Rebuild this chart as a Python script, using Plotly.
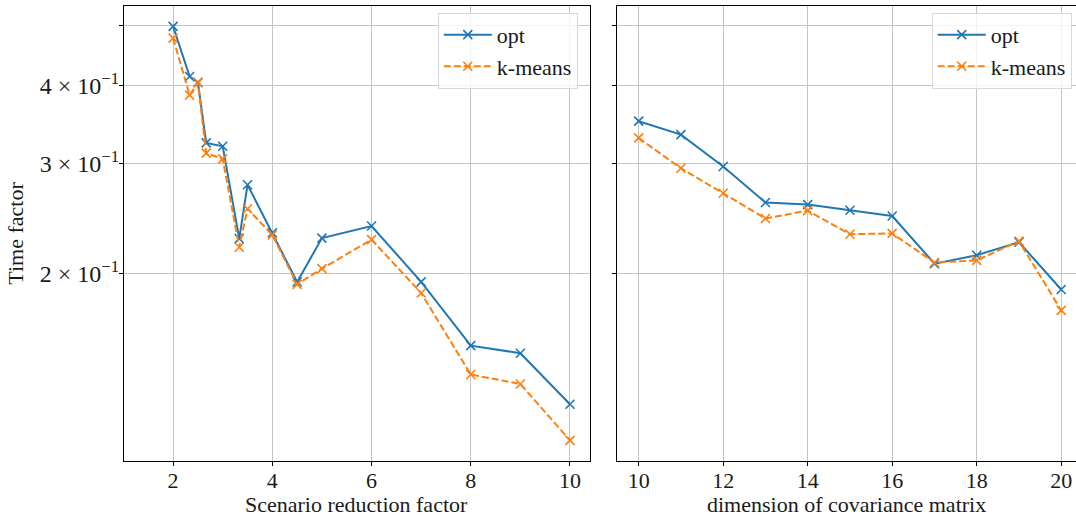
import plotly.graph_objects as go

# Left panel: scenario reduction factor
red_factor = [2, 2.333, 2.5, 2.667, 3, 3.333, 3.5, 4, 4.5, 5, 6, 7, 8, 9, 10]
red_opt = [0.498, 0.414, 0.405, 0.324, 0.320, 0.2275, 0.2776, 0.2325, 0.1939, 0.228,
           0.2384, 0.194, 0.1533, 0.1491, 0.1235]
red_kmeans = [0.477, 0.3865, 0.4046, 0.3119, 0.3054, 0.2204, 0.2541, 0.2307, 0.1922, 0.2037,
              0.2267, 0.1862, 0.1378, 0.1331, 0.1081]

# Right panel: dimension of covariance matrix
dims = [10, 11, 12, 13, 14, 15, 16, 17, 18, 19, 20]
dim_opt = [0.351, 0.334, 0.297, 0.260, 0.258, 0.2527, 0.2474, 0.2075, 0.2140, 0.2246, 0.1886]
dim_kmeans = [0.330, 0.295, 0.269, 0.2451, 0.2523, 0.2313, 0.2320, 0.2083, 0.2100, 0.2255, 0.1746]

y_tickvals = [0.2, 0.3, 0.4, 0.5]
y_ticktext = ["2 × 10<sup>−1</sup>", "3 × 10<sup>−1</sup>", "4 × 10<sup>−1</sup>", ""]
x1_ticks = [2, 4, 6, 8, 10]
x2_ticks = [10, 12, 14, 16, 18, 20]
x1_title = "Scenario reduction factor"
x2_title = "dimension of covariance matrix"
y_title = "Time factor"

BLUE = "#1f77b4"
ORANGE = "#ff7f0e"
FONT = "Liberation Serif"
TXT = "#1a1a1a"

fig = go.Figure()


def add_pair(x, y_opt, y_km, xa, ya, legend):
    fig.add_trace(go.Scatter(
        x=x, y=y_opt, name="opt", mode="lines+markers", xaxis=xa, yaxis=ya, legend=legend,
        line=dict(color=BLUE, width=2),
        marker=dict(symbol="x-thin", size=9, line=dict(color=BLUE, width=1.6)),
    ))
    fig.add_trace(go.Scatter(
        x=x, y=y_km, name="k-means", mode="lines+markers", xaxis=xa, yaxis=ya, legend=legend,
        line=dict(color=ORANGE, width=2, dash="7px,3px"),
        marker=dict(symbol="x-thin", size=9, line=dict(color=ORANGE, width=1.6)),
    ))


add_pair(red_factor, red_opt, red_kmeans, "x", "y", "legend")
add_pair(dims, dim_opt, dim_kmeans, "x2", "y2", "legend2")

axis_common = dict(
    showline=True, mirror=True, linecolor="black", linewidth=1,
    showgrid=True, gridcolor="#c4c4c4", gridwidth=1,
    ticks="outside", ticklen=4, tickcolor="black", tickwidth=1,
    zeroline=False,
)
tf_x = dict(family=FONT, size=22, color=TXT)
tf_y = dict(family=FONT, size=24, color=TXT)

yrange = [-0.99929, -0.2701]

legend_common = dict(
    bgcolor="rgba(255,255,255,0.8)", bordercolor="#d8d8d8", borderwidth=1,
    font=dict(family=FONT, size=22, color=TXT),
    xanchor="right", yanchor="top", y=0.985,
    itemwidth=48,
)

fig.update_layout(
    width=1076, height=516,
    margin=dict(l=124.3, r=0, t=5.7, b=55.3),
    plot_bgcolor="white", paper_bgcolor="white",
    font=dict(family=FONT, size=22, color=TXT),
    xaxis=dict(domain=[0, 0.4893], range=[1.01, 10.4], tickvals=x1_ticks,
               ticklabelstandoff=-4, tickfont=tf_x, **axis_common),
    yaxis=dict(type="log", range=yrange, tickvals=y_tickvals, ticktext=y_ticktext,
               ticklabelstandoff=-5, tickfont=tf_y,
               title=dict(text=y_title, standoff=10, font=dict(family=FONT, size=22, color=TXT)),
               **axis_common),
    xaxis2=dict(domain=[0.518, 1.0], range=[9.49, 20.35], tickvals=x2_ticks, anchor="y2",
                ticklabelstandoff=-4, tickfont=tf_x, **axis_common),
    yaxis2=dict(type="log", range=yrange, tickvals=y_tickvals, showticklabels=False,
                anchor="x2", matches="y", **axis_common),
    legend=dict(x=0.4767, **legend_common),
    legend2=dict(x=0.9955, **legend_common),
)

for xref, txt in (("x domain", x1_title), ("x2 domain", x2_title)):
    fig.add_annotation(
        text=txt, xref=xref, yref="paper", x=0.5, y=-0.095,
        xanchor="center", yanchor="middle", showarrow=False,
        font=dict(family=FONT, size=22, color=TXT),
    )

fig.write_html(
    "out.html",
    config={"displayModeBar": False},
    post_script="document.body.style.margin='0';document.body.style.padding='0';",
)
